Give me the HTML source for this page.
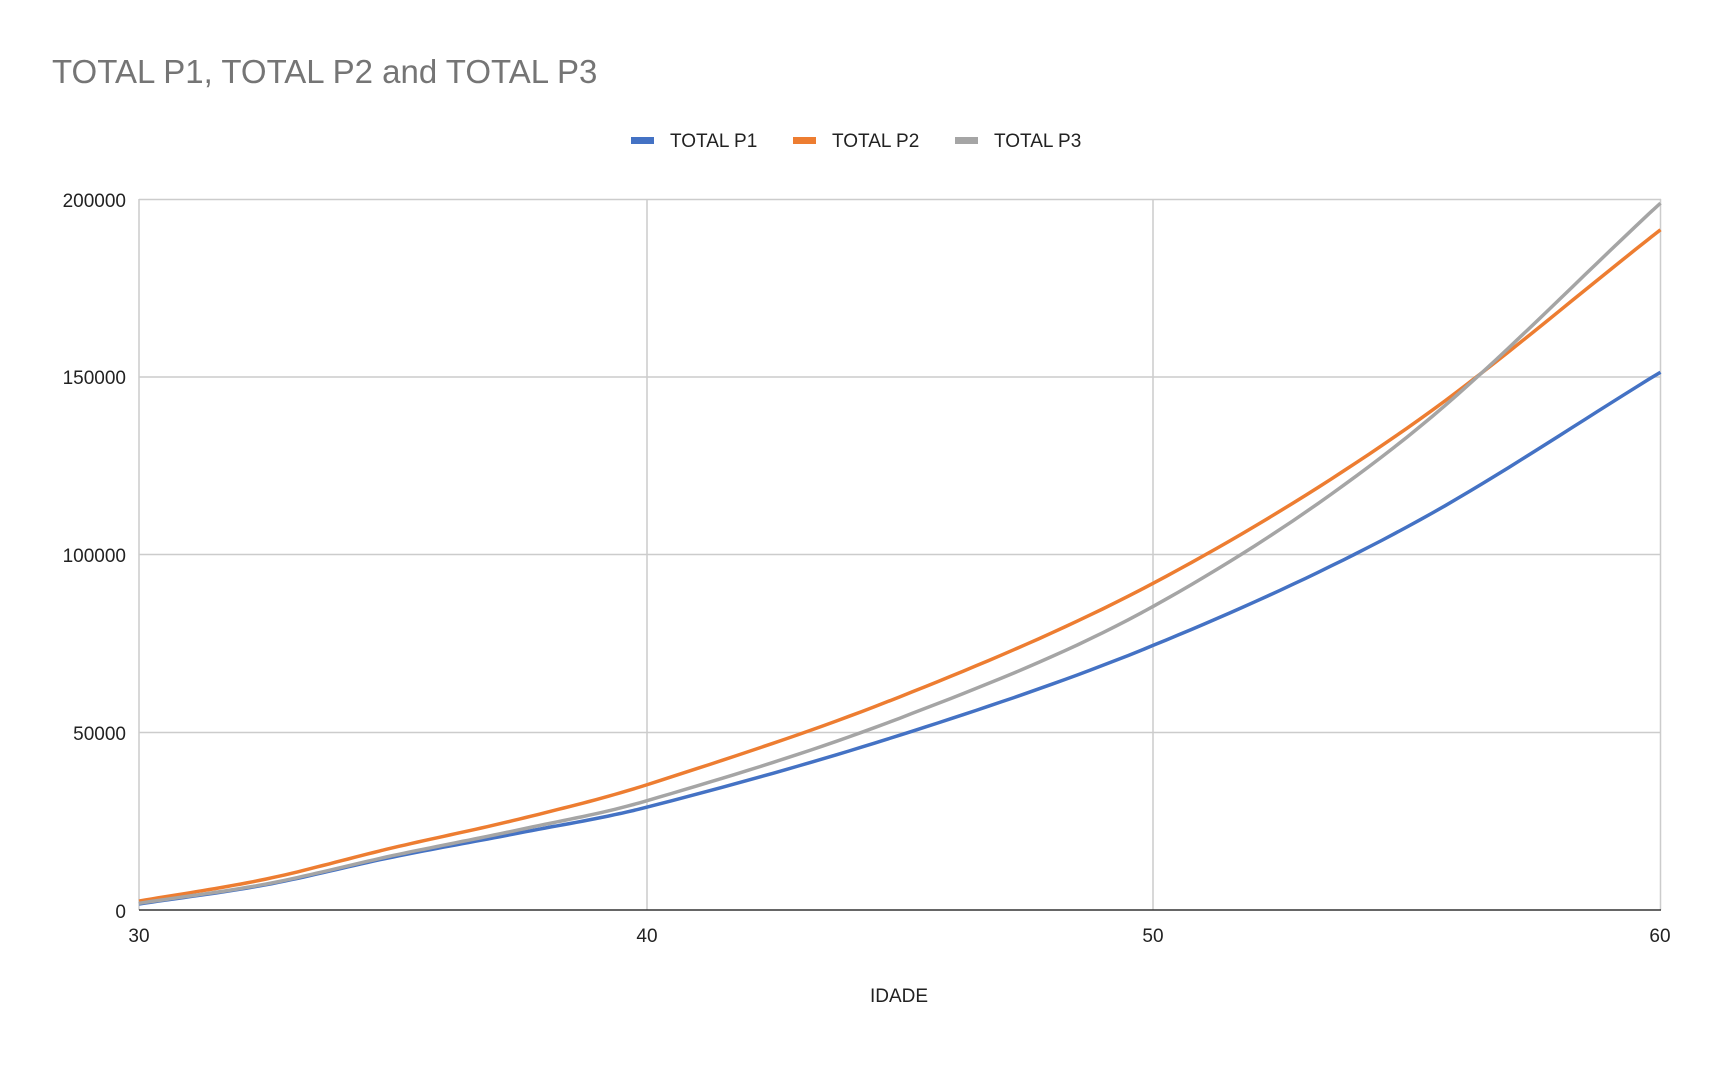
<!DOCTYPE html>
<html><head><meta charset="utf-8"><style>
body{margin:0;background:#fff;width:1715px;height:1060px;overflow:hidden}
svg text{font-family:"Liberation Sans",sans-serif}
</style></head><body>
<svg id="s" width="1715" height="1060" xmlns="http://www.w3.org/2000/svg">
<text x="52" y="83" font-size="33" fill="#757575">TOTAL P1, TOTAL P2 and TOTAL P3</text>
<rect x="631" y="137" width="23" height="7" fill="#4472c4"/>
<text x="670" y="147" font-size="19" fill="#222">TOTAL P1</text>
<rect x="793" y="137" width="23" height="7" fill="#ed7d31"/>
<text x="832" y="147" font-size="19" fill="#222">TOTAL P2</text>
<rect x="955" y="137" width="23" height="7" fill="#a5a5a5"/>
<text x="994" y="147" font-size="19" fill="#222">TOTAL P3</text>
<g stroke="#ccc" stroke-width="1.5">
<line x1="139" y1="199.5" x2="1661" y2="199.5"/>
<line x1="139" y1="377" x2="1661" y2="377"/>
<line x1="139" y1="554.5" x2="1661" y2="554.5"/>
<line x1="139" y1="732.5" x2="1661" y2="732.5"/>
<line x1="139" y1="199" x2="139" y2="910"/>
<line x1="647" y1="199" x2="647" y2="910"/>
<line x1="1153" y1="199" x2="1153" y2="910"/>
<line x1="1660.5" y1="199" x2="1660.5" y2="910"/>
</g>
<line x1="139" y1="910" x2="1661" y2="910" stroke="#333" stroke-width="1.5"/>
<g font-size="19" fill="#222" text-anchor="end">
<text x="126" y="207">200000</text>
<text x="126" y="384">150000</text>
<text x="126" y="562">100000</text>
<text x="126" y="740">50000</text>
<text x="126" y="918">0</text>
</g>
<g font-size="19" fill="#222" text-anchor="middle">
<text x="139" y="942">30</text>
<text x="647" y="942">40</text>
<text x="1153" y="942">50</text>
<text x="1660" y="942">60</text>
<text x="899" y="1002">IDADE</text>
</g>
<g id="lines" fill="none" stroke-width="3.5" stroke-linejoin="round"></g>
</svg>
<script>
var ages=[30,32.5,35,37.5,40,45,50,55,60];
var series=[
 ["#4472c4",[1700,7100,14900,21700,28900,49200,74500,107800,151400]],
 ["#ed7d31",[2500,8700,17500,25600,35200,60000,92000,135600,191500]],
 ["#a5a5a5",[1900,7300,15300,22600,30700,54000,85500,133100,199000]]];
function X(a){return 139+(a-30)/30*1521.5;}
function Y(v){return 910-v/200000*710.5;}
var g=document.getElementById('lines');
var n=ages.length;
series.forEach(function(s){
 var v=s[1],m=[],d="";
 for(var i=0;i<n;i++){
  var a=Math.max(i-1,0),b=Math.min(i+1,n-1);
  m[i]=(v[b]-v[a])/(ages[b]-ages[a]);
 }
 for(var i=0;i<n-1;i++){
  var h=ages[i+1]-ages[i];
  for(var k=0;k<=20;k++){
   var t=k/20,t2=t*t,t3=t2*t;
   var y=(2*t3-3*t2+1)*v[i]+(t3-2*t2+t)*h*m[i]+(-2*t3+3*t2)*v[i+1]+(t3-t2)*h*m[i+1];
   d+=(d?"L":"M")+X(ages[i]+h*t).toFixed(1)+","+Y(y).toFixed(1);
  }
 }
 var p=document.createElementNS("http://www.w3.org/2000/svg","path");
 p.setAttribute("d",d);p.setAttribute("stroke",s[0]);g.appendChild(p);
});
</script>
</body></html>
